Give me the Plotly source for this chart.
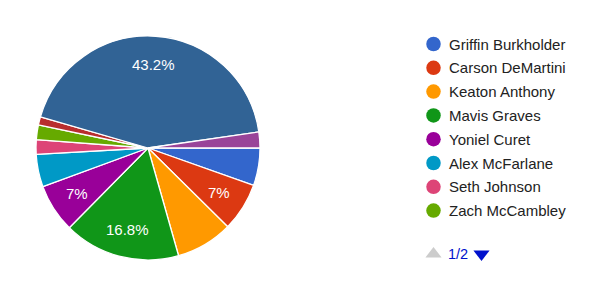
import math
import plotly.graph_objects as go

# ---- data ----
names = ["Griffin Burkholder", "Carson DeMartini", "Keaton Anthony", "Mavis Graves",
         "Yoniel Curet", "Alex McFarlane", "Seth Johnson", "Zach McCambley",
         "Page 2 A", "Page 2 B", "Page 2 C"]
values = [5.4, 7.0, 8.2, 16.8, 7.0, 4.7, 2.1, 2.1, 1.2, 43.2, 2.3]
colors = ["#3366cc", "#dc3912", "#ff9900", "#109618", "#990099", "#0099c6",
          "#dd4477", "#66aa00", "#b82e2e", "#316395", "#994499"]
slice_labels = ["", "7%", "", "16.8%", "7%", "", "", "", "", "43.2%", ""]
legend_count = 8          # entries visible on legend page 1
page_text = "1/2"

FONT = "Liberation Sans, Arial, sans-serif"
W, H = 594, 283
CX, CY, R = 148, 148, 112
START = 90  # degrees clockwise from 12 o'clock

fig = go.Figure()

fig.add_trace(go.Pie(
    labels=names, values=values, sort=False, direction="clockwise", rotation=START,
    marker=dict(colors=colors, line=dict(color="white", width=1.3)),
    textinfo="none",
    hoverinfo="label+percent", showlegend=False,
    domain=dict(x=[(CX - R) / W, (CX + R) / W], y=[(H - CY - R) / H, (H - CY + R) / H]),
))

# slice labels at 3/4 radius, mid-angle of each slice
total = sum(values)
cum = 0.0
for v, lab in zip(values, slice_labels):
    mid = START + (cum + v / 2) / total * 360
    cum += v
    if not lab:
        continue
    a = math.radians(mid)
    fig.add_annotation(x=CX + 0.75 * R * math.sin(a), y=CY - 0.75 * R * math.cos(a),
                       xref="x", yref="y", text=lab, showarrow=False,
                       font=dict(family=FONT, size=15, color="white"))

# custom legend (page 1 of 2)
ly = [44 + i * 23.8 for i in range(legend_count)]
fig.add_trace(go.Scatter(
    x=[433.5] * legend_count, y=ly, mode="markers",
    marker=dict(size=14.5, color=colors[:legend_count], line=dict(width=0)),
    hoverinfo="skip", showlegend=False, xaxis="x", yaxis="y", cliponaxis=False,
))
for n, y in zip(names[:legend_count], ly):
    fig.add_annotation(x=447, y=y, xref="x", yref="y", text=n, showarrow=False,
                       xanchor="left", yanchor="middle",
                       font=dict(family=FONT, size=15, color="#222222"))

# pagination arrows
fig.add_trace(go.Scatter(
    x=[433.5, 481.5], y=[254, 254], mode="markers",
    marker=dict(symbol=["triangle-up", "triangle-down"], size=14,
                color=["#cccccc", "#0011cc"], line=dict(width=0)),
    hoverinfo="skip", showlegend=False, xaxis="x", yaxis="y", cliponaxis=False,
))
fig.add_annotation(x=457.5, y=254, xref="x", yref="y", text=page_text, showarrow=False,
                   font=dict(family=FONT, size=14.5, color="#0011cc"))

fig.update_layout(
    width=W, height=H, margin=dict(l=0, r=0, t=0, b=0),
    paper_bgcolor="white", plot_bgcolor="white",
    xaxis=dict(range=[0, W], domain=[0, 1], visible=False, fixedrange=True),
    yaxis=dict(range=[H, 0], domain=[0, 1], visible=False, fixedrange=True),
    showlegend=False,
)

fig.write_html("out.html")
